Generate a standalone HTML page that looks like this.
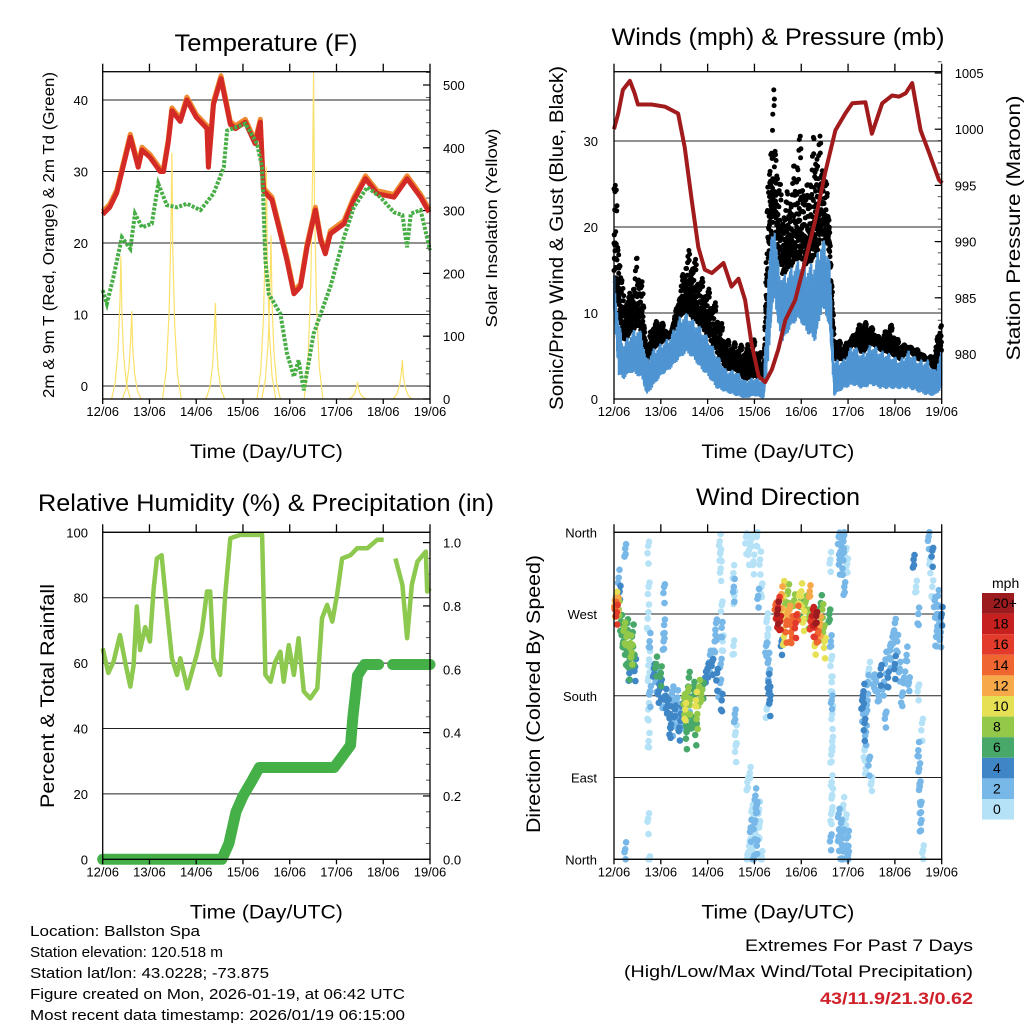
<!DOCTYPE html>
<html><head><meta charset="utf-8"><style>
html,body{margin:0;padding:0;background:#fff;}
svg{display:block;font-family:"Liberation Sans",sans-serif;}
</style></head><body>
<svg id="root" width="1024" height="1024" viewBox="0 0 1024 1024" xmlns="http://www.w3.org/2000/svg"></svg>
<script>
// ---------- DATA ----------
const dayLabels=["12/06","13/06","14/06","15/06","16/06","17/06","18/06","19/06"];
const tempTicks=[0,10,20,30,40];
const solarTicks=[0,100,200,300,400,500];
const windTicks=[0,10,20,30];
const presTicks=[980,985,990,995,1000,1005];
const rhTicks=[0,20,40,60,80,100];
const precipTicks=[0.0,0.2,0.4,0.6,0.8,1.0];
const dirTicks=[0,90,180,270,360];
const dirLabels=["North","East","South","West","North"];
const spdLabels=["20+","18","16","14","12","10","8","6","4","2","0"];

const tDay=[0,0.15,0.3,0.45,0.59,0.76,0.84,1.01,1.23,1.3,1.4,1.48,1.66,1.8,2.0,2.23,2.26,2.37,2.53,2.73,2.84,3.05,3.26,3.37,3.44,3.62,3.8,3.94,4.09,4.23,4.37,4.55,4.66,4.76,4.87,5.16,5.37,5.62,5.87,6.23,6.51,6.8,6.98];
const tVal=[24,25,27,31,34.8,30.6,33,32,30,30,34,38.5,37,40,37.6,36,30.6,39.4,43,36.6,36,36.9,33.9,36.9,27.3,26,21.3,17.6,12.9,13.9,19.4,24.6,20.4,18.5,21.3,22.7,26,29,26.9,26.4,29,26.4,24.3];
const tdDay=[0,0.09,0.23,0.41,0.59,0.69,0.84,1.05,1.19,1.37,1.59,1.8,2.09,2.37,2.59,2.66,3.05,3.3,3.41,3.48,3.55,3.8,3.94,4.09,4.19,4.3,4.51,4.87,5.16,5.37,5.66,5.94,6.23,6.41,6.51,6.59,6.8,7.0];
const tdVal=[13.4,11.5,15.3,20.8,19.2,24.1,22.2,22.7,28.3,25.3,25,25.5,24.6,26.9,30.6,35.7,36.7,33.9,30.6,17.6,12.9,10.1,4.6,1.3,3.6,-0.6,7.3,13.9,20.8,25,27.8,26.4,24.3,23.9,19.4,24.1,24.6,19];
const solarDay=[0.39,0.62,1.48,2.41,3.5,3.6,4.51,5.45,6.41];
const solarPeak=[227,140,392,153,370,260,520,27,62];

const wDay=[0,0.1,0.2,0.35,0.5,0.6,0.7,0.8,1.0,1.2,1.4,1.55,1.7,1.85,2.0,2.2,2.4,2.6,2.8,3.0,3.2,3.3,3.42,3.5,3.6,3.8,3.95,4.1,4.3,4.45,4.6,4.7,4.9,5.1,5.3,5.5,5.7,5.9,6.1,6.3,6.5,6.7,6.85,7.0];
const windHi=[14.7,9.2,6.5,7.7,8.4,7.7,4.6,5.7,6.5,7.3,9.6,10,9.2,8.4,7.3,5.3,3.4,3.4,2.2,2.6,2.2,16.2,21.2,16.2,14.3,15.4,16.2,15.4,16.2,18.9,17,4.6,4.6,6.5,5.3,6.5,5.7,5.3,4.6,5.7,4.6,4.6,3.4,5.7];
const windLo=[10,2.6,2.2,3,2.6,2.2,0.3,1.1,2.6,3.4,4.6,5.3,4.6,3.4,2.6,1.1,0.7,0.3,0,0.3,0,4.6,12.3,8.4,6.5,8.4,9.2,7.7,6.5,10.4,8.4,0.3,1.1,1.5,1.1,1.5,1.1,1.1,1.1,1.1,0.7,0.3,0.3,1.1];
const gust=[28.6,20,12.3,12.3,17,14.3,4.6,8.8,9.2,7.3,12.3,17.4,17,14.3,13.1,10.8,6.9,6.5,6.1,6.9,4.6,28.6,36.4,27.8,22.8,25.5,32.1,24,32.1,29.8,22,7.7,6.1,7.3,9.2,8.4,6.9,8.9,6.5,6.1,5.7,4.6,5.4,10];
const pDay=[0,0.09,0.19,0.34,0.44,0.51,0.8,1.09,1.23,1.37,1.51,1.66,1.8,1.94,2.09,2.34,2.51,2.66,2.8,2.94,3.09,3.23,3.37,3.51,3.66,3.87,4.09,4.3,4.51,4.73,4.94,5.09,5.37,5.51,5.73,5.94,6.09,6.23,6.37,6.55,6.73,6.94,7.01];
const pVal=[1000,1001.4,1003.5,1004.3,1003.2,1002.2,1002.2,1002,1001.7,1001.4,998.4,993.7,989.5,987.5,987.2,988.1,986,986.7,984.8,980.9,978,977.5,978.6,980.4,983,984.8,988.4,991.9,996.1,999.9,1001.4,1002.3,1002.4,999.6,1002.3,1003,1002.9,1003.2,1004.1,999.9,997.9,995.5,995.2];

const rhDay=[0,0.12,0.23,0.37,0.48,0.59,0.66,0.73,0.8,0.91,1.01,1.09,1.16,1.26,1.37,1.48,1.59,1.66,1.81,2.01,2.12,2.23,2.3,2.37,2.51,2.62,2.73,2.94,3.41,3.48,3.59,3.69,3.8,3.87,3.98,4.09,4.19,4.3,4.44,4.59,4.69,4.8,4.91,5.01,5.12,5.3,5.44,5.66,5.87,6.01,6.1,6.26,6.41,6.51,6.61,6.73,6.91,6.94,7.0];
const rhVal=[64.5,57,60.4,68.6,60.4,52.8,59.4,77.3,64,71,66.6,82.9,92,93,76.8,61.5,56.4,61.5,52.3,62.5,69.6,81.9,81.9,61.5,56.4,80.8,98.2,99.2,99.2,56.4,54.3,60.4,63.5,54.3,65.5,56.4,67.6,51.3,49.2,52.3,73.7,77.8,72.7,80.8,92,93,95.1,95.1,97.7,97.7,null,92,83.9,67.6,83.9,91,94.1,81.9,82.9];
const prDay=[0,2.55,2.7,2.85,3.0,3.2,3.35,4.95,5.1,5.3,5.35,5.45,5.6,5.9,6.05,6.2,7.0];
const prVal=[0,0,0.05,0.15,0.2,0.25,0.29,0.29,0.32,0.36,0.45,0.58,0.615,0.615,null,0.615,0.615];

const dirDay=[0.02,0.03,0.05,0.06,0.08,0.1,0.12,0.1,0.15,0.18,0.2,0.22,0.25,0.27,0.3,0.32,0.35,0.38,0.4,0.42,0.45,0.28,0.33,0.24,0.73,0.74,0.72,0.76,0.75,0.74,0.77,0.73,0.74,0.73,0.75,0.24,1.07,1.07,1.06,0.85,0.9,0.95,1.0,1.05,1.1,1.15,1.2,1.25,1.3,1.35,1.4,1.45,1.5,0.9,1.0,1.25,1.35,1.2,1.55,1.6,1.5,1.52,1.55,1.58,1.62,1.66,1.7,1.75,1.78,1.82,1.86,1.9,1.55,1.75,1.6,1.95,2.0,2.05,2.1,2.15,2.2,2.25,2.3,2.28,2.18,2.26,2.27,2.28,2.3,2.3,2.32,2.55,2.56,2.57,2.58,2.6,2.6,2.55,2.82,2.88,2.93,2.98,3.05,3.12,3.15,3.08,2.85,2.9,2.95,3.0,3.05,2.9,2.95,3.0,3.05,3.1,2.85,3.15,3.1,2.92,2.98,3.02,3.3,3.32,3.33,3.31,3.3,3.28,3.27,3.25,3.26,3.45,3.48,3.5,3.52,3.55,3.58,3.6,3.62,3.65,3.68,3.7,3.72,3.75,3.78,3.8,3.85,3.88,3.92,3.95,3.98,4.0,4.05,4.1,4.15,4.18,4.2,4.25,4.28,4.32,4.35,4.4,4.45,4.48,4.5,4.42,4.6,3.58,3.63,4.3,4.62,4.63,4.64,4.65,4.65,4.66,4.66,4.64,4.65,4.66,4.64,4.63,4.8,4.85,4.9,4.95,4.88,4.82,4.92,4.9,4.98,4.8,4.85,4.9,4.95,5.0,4.85,4.9,4.8,4.95,5.0,4.88,5.3,5.32,5.35,5.33,5.38,5.4,5.42,5.45,5.35,5.38,5.45,5.5,5.55,5.6,5.65,5.7,5.75,5.8,5.85,5.9,5.95,6.0,6.05,6.1,6.15,6.2,6.25,6.3,5.8,5.9,6.0,6.4,6.45,6.5,6.5,6.52,6.53,6.55,6.55,6.6,6.5,6.58,6.72,6.75,6.8,6.85,6.9,6.95,7.0,6.88,6.92,6.98,6.8];
const dirDeg=[285,278,290,272,282,275,295,310,262,250,240,255,232,245,225,215,238,228,250,222,212,260,205,342,345,300,265,240,220,200,185,165,130,45,0,11,300,258,240,210,200,185,195,175,180,170,160,150,165,155,145,168,150,215,205,185,178,145,175,160,178,165,155,185,170,150,190,175,160,190,182,192,140,145,200,200,210,225,218,240,205,185,175,215,260,350,338,320,280,255,240,315,300,290,160,140,125,235,355,340,352,328,355,330,300,290,85,95,55,40,60,20,10,25,15,35,5,3,55,35,0,70,195,185,175,205,220,245,265,235,165,280,268,275,285,262,292,270,300,280,258,270,295,275,250,262,285,260,270,290,278,295,265,285,272,295,262,275,255,268,248,260,275,255,240,282,270,240,245,238,330,240,220,195,175,160,130,115,85,70,50,25,355,345,350,340,320,330,300,355,325,50,40,30,15,5,10,60,25,45,25,0,175,160,150,185,140,170,195,210,120,100,110,85,200,195,180,210,190,220,200,235,245,260,240,210,180,200,225,195,160,230,215,330,300,270,120,100,80,60,40,10,190,150,355,330,300,285,270,260,270,245,290,250,340];
const dirSpd=[12,14,10,16,12,8,5,3,6,7,6,8,7,8,7,6,9,8,7,6,5,7,5,3,0,1,1,2,1,1,2,0,0,0,0,3,3,3,2,4,3,4,4,3,5,4,4,3,4,3,4,5,3,6,7,3,2,4,4,3,8,10,7,9,8,7,7,10,8,9,8,7,6,7,6,5,4,3,4,3,4,3,4,3,2,0,1,1,1,2,1,1,2,1,2,1,1,1,0,1,1,1,0,0,1,2,0,1,1,2,3,1,0,1,2,1,0,0,0,2,2,3,4,5,4,3,2,1,1,2,1,14,18,20,16,19,12,10,11,9,14,13,8,12,14,15,9,17,14,10,7,11,10,9,8,13,17,18,16,20,15,12,8,9,10,6,6,5,11,11,1,2,1,1,2,1,1,0,0,1,0,2,2,3,2,1,2,3,3,3,1,2,2,3,2,2,3,1,3,1,2,2,4,3,5,4,3,2,2,1,1,0,2,0,3,2,3,4,3,2,4,3,2,3,3,2,2,2,3,2,2,2,4,4,1,2,2,2,3,3,2,1,1,1,2,0,1,2,3,3,4,3,2,3,4,1];

// ---------- HELPERS ----------
const NS="http://www.w3.org/2000/svg";
const root=document.getElementById('root');
function mk(tag,attrs,parent){const e=document.createElementNS(NS,tag);for(const k in attrs)e.setAttribute(k,attrs[k]);(parent||root).appendChild(e);return e;}
function txt(s,x,y,size,anchor,extra,parent){const e=mk('text',Object.assign({x:x,y:y,'font-size':size,'text-anchor':anchor||'middle',fill:'#000'},extra||{}),parent);e.textContent=s;return e;}
function lin(a0,a1,p0,p1){return v=>p0+(v-a0)*(p1-p0)/(a1-a0);}
function pathOf(xs,ys,fx,fy){let d='',pen=false;for(let i=0;i<xs.length;i++){if(ys[i]===null){pen=false;continue;}d+=(pen?'L':'M')+fx(xs[i]).toFixed(1)+','+fy(ys[i]).toFixed(1);pen=true;}return d;}
const spdColors=["#b5e2f7","#78b8e8","#3f86c6","#48a86a","#93c848","#e6e055","#f7a94a","#ef6631","#e23a2b","#c6201f","#9b1b1e"];
const fr=[0.05,0.35,0.7,1.0,0.5,0.15,0.85,0.25,0.6,0.95,0.4,0.8,0.1,0.55,0.9,0.3,0.75,0.2,0.65,0.45];

function frame(g,x0,x1,y0,y1,name){
  const f=mk('rect',{x:x0,y:y0,width:x1-x0,height:y1-y0,fill:'none',stroke:'#000','stroke-width':1.3},g);
  
  
  const fx=lin(0,7,x0,x1);
  for(let i=0;i<dayLabels.length;i++){
    const x=fx(i);
    const t1=mk('line',{x1:x,x2:x,y1:y0-8,y2:y0,stroke:'#000','stroke-width':1.3},g);
    
    
    const t2=mk('line',{x1:x,x2:x,y1:y1,y2:y1+5,stroke:'#000','stroke-width':1.3},g);
    
    
    const l=txt(dayLabels[i],x,y1+17,13,'middle',{},g);
    
    
  }
  const xt=txt('Time (Day/UTC)',(x0+x1)/2,y1+59,19,'middle',{textLength:153,lengthAdjust:'spacingAndGlyphs'},g);
  
  
  return fx;
}
function hgrid(g,vals,fy,x0,x1,labels,lx,anchor,name){
  vals.forEach((v,i)=>{const y=fy(v);
    const gl=mk('line',{x1:x0,x2:x1,y1:y,y2:y,stroke:'#222','stroke-width':1},g);
    
    
    const tl=txt(labels?labels[i]:String(v),lx,y+5,13,anchor,{},g);
    
    });
}
function rightAxis(g,vals,fy,x,labels,name,minorVals){
  (minorVals||[]).forEach(v=>{const y=fy(v);
    const m=mk('line',{x1:x-4,x2:x,y1:y,y2:y,stroke:'#555','stroke-width':1},g);
    
    });
  vals.forEach((v,i)=>{const y=fy(v);
    const t=mk('line',{x1:x-7,x2:x,y1:y,y2:y,stroke:'#000','stroke-width':1.2},g);
    
    
    const l=txt(labels[i],x+13,y+5,13,'start',{},g);
    
    });
}
function vtitle(g,s,x,y,size,len,name){const e=txt(s,x,y,size,'middle',{transform:`rotate(-90 ${x} ${y})`,textLength:len,lengthAdjust:'spacingAndGlyphs'},g);
  
  return e;}
function title(g,s,x,y,len,name){const e=txt(s,x,y,24,'middle',{textLength:len,lengthAdjust:'spacingAndGlyphs'},g);
  
  }

// ---------- PANEL 1: TEMPERATURE ----------
{
const g=mk('g',{});


const x0=102.7,x1=430,y0=71.7,y1=399;
const fy=lin(0,40,386,100), sy=lin(0,500,399,85);
const fx=lin(0,7,x0,x1);
hgrid(g,tempTicks,fy,x0,x1,null,88,'end','temperature');
const mv=[];for(let v=0;v<=520;v+=20)mv.push(v);
rightAxis(g,solarTicks,sy,x1,solarTicks.map(String),'solar',mv);
solarDay.forEach((c,i)=>{const p=solarPeak[i];
  const xs=[c-0.2,c-0.12,c-0.06,c-0.02,c,c+0.02,c+0.06,c+0.12,c+0.2];
  const ys=[0,p*0.12,p*0.35,p*0.7,p,p*0.6,p*0.3,p*0.1,0];
  const s=mk('path',{d:pathOf(xs,ys,fx,sy),fill:'none',stroke:'#fbe16b','stroke-width':1.2},g);
  
  });
const o=mk('path',{d:pathOf(tDay,tVal.map(v=>v+0.4),fx,fy),fill:'none',stroke:'#f08a30','stroke-width':5,'stroke-linejoin':'round'},g);


const r=mk('path',{d:pathOf(tDay,tVal,fx,fy),fill:'none',stroke:'#d42a26','stroke-width':5,'stroke-linejoin':'round'},g);


const d=mk('path',{d:pathOf(tdDay,tdVal,fx,fy),fill:'none',stroke:'#47ad45','stroke-width':4,'stroke-dasharray':'3 1.5'},g);


frame(g,x0,x1,y0,y1,'temperature');
title(g,'Temperature (F)',266,51,183,'temperature-title');
vtitle(g,'2m & 9m T (Red, Orange) & 2m Td (Green)',54,235,16,326,'temperature-y-title');
vtitle(g,'Solar Insolation (Yellow)',497,228,16,199,'solar-y-title');
}

// ---------- PANEL 2: WINDS ----------
{
const g=mk('g',{});


const x0=614,x1=941.7,y0=71.7,y1=399;
const fy=lin(0,30,399,141), py=lin(980,1000,354,129.2);
const fx=lin(0,7,x0,x1);
hgrid(g,windTicks,fy,x0,x1,null,598,'end','wind');
const mv=[];for(let v=978;v<=1006;v++)mv.push(v);
rightAxis(g,presTicks,py,x1,presTicks.map(String),'pressure',mv);
const dg=mk('g',{fill:'#000'},g);


const bg=mk('g',{stroke:'#4f95d2','stroke-width':2},g);


let k=0;
for(let i=0;i<wDay.length-1;i++){
  const n=Math.max(3,Math.round((wDay[i+1]-wDay[i])/0.007));
  for(let j=0;j<n;j++){const t=j/n;const dd=wDay[i]+(wDay[i+1]-wDay[i])*t;
    const hi=windHi[i]+(windHi[i+1]-windHi[i])*t, gs=gust[i]+(gust[i+1]-gust[i])*t, lo=windLo[i]+(windLo[i+1]-windLo[i])*t;
    const x=fx(dd).toFixed(1);
    for(let m=0;m<3;m++){const f=fr[(k++)%fr.length];
      const v=(m==0)?hi+(gs-hi)*f*0.35 : (m==1? hi+(gs-hi)*f*0.7 : hi+(gs-hi)*f);
      const c=mk('circle',{cx:x,cy:fy(v).toFixed(1),r:2.5},dg);
      
      }
    const f1=fr[(k+3)%fr.length], f2=fr[(k+7)%fr.length];
    const top=lo+(hi-lo)*(0.55+0.45*f1), bot=lo+(hi-lo)*0.25*f2;
    const ln=mk('line',{x1:x,x2:x,y1:fy(bot).toFixed(1),y2:fy(top).toFixed(1)},bg);
    
    
  }
}
const p=mk('path',{d:pathOf(pDay,pVal,fx,py),fill:'none',stroke:'#a11a1c','stroke-width':4,'stroke-linejoin':'round'},g);


frame(g,x0,x1,y0,y1,'winds');
title(g,'Winds (mph) & Pressure (mb)',778,45,333,'winds-title');
vtitle(g,'Sonic/Prop Wind & Gust (Blue, Black)',563,238,19,344,'wind-y-title');
vtitle(g,'Station Pressure (Maroon)',1020,228,19,265,'pressure-y-title');
}

// ---------- PANEL 3: RH & PRECIP ----------
{
const g=mk('g',{});


const x0=102.7,x1=430,y0=532.3,y1=859.3;
const fy=lin(0,100,859.3,532.3), qy=lin(0,1,859.3,542.6);
const fx=lin(0,7,x0,x1);
hgrid(g,rhTicks,fy,x0,x1,null,88,'end','humidity');
const mv=[];for(let v=0;v<=1.04;v+=0.05)mv.push(v);
rightAxis(g,precipTicks,qy,x1,precipTicks.map(v=>v.toFixed(1)),'precip',mv);
const r=mk('path',{d:pathOf(rhDay,rhVal,fx,fy),fill:'none',stroke:'#8dc84f','stroke-width':4.5,'stroke-linejoin':'round'},g);


const q=mk('path',{d:pathOf(prDay,prVal,fx,qy),fill:'none',stroke:'#44b047','stroke-width':11,'stroke-linejoin':'round','stroke-linecap':'round'},g);


frame(g,x0,x1,y0,y1,'humidity');
title(g,'Relative Humidity (%) & Precipitation (in)',266,511,456,'humidity-title');
vtitle(g,'Percent & Total Rainfall',54,696,19,224,'humidity-y-title');
}

// ---------- PANEL 4: WIND DIRECTION ----------
{
const g=mk('g',{});


const x0=614,x1=941.7,y0=532.3,y1=859.3;
const fy=lin(0,360,859.3,532.3);
const fx=lin(0,7,x0,x1);
hgrid(g,dirTicks,fy,x0,x1,dirLabels,597,'end','direction');
const dg=mk('g',{},g);


const order=dirDay.map((d,i)=>i).sort((a,b)=>dirSpd[a]-dirSpd[b]);
const jit=[[0,0],[0.018,7],[-0.015,-8],[0.008,-15]];
order.forEach((i,n)=>{const ci=Math.min(10,Math.floor(dirSpd[i]/2));
  jit.forEach((jj,m)=>{
    const dv=Math.max(0,Math.min(360,dirDeg[i]+jj[1]*(fr[(n+m)%fr.length]+0.3)));
    const c=mk('circle',{cx:fx(dirDay[i]+jj[0]).toFixed(1),cy:fy(dv).toFixed(1),r:3.3,fill:spdColors[ci]},dg);
    
    });});
frame(g,x0,x1,y0,y1,'direction');
title(g,'Wind Direction',778,505,164,'direction-title');
vtitle(g,'Direction (Colored By Speed)',540,694,19,278,'direction-y-title');
const lg=mk('g',{},root);


const lt=txt('mph',992,588,14,'start',{},lg);


spdLabels.forEach((s,i)=>{const y=593+i*20.6;
  const rc=mk('rect',{x:982,y:y,width:32,height:20.6,fill:spdColors[10-i]},lg);
  
  
  const l=txt(s,993,y+15,14,'start',{},lg);
  
  });
}

// ---------- FOOTER ----------
{
const g=mk('g',{});


const lines=["Location: Ballston Spa","Station elevation: 120.518 m","Station lat/lon: 43.0228; -73.875","Figure created on Mon, 2026-01-19, at 06:42 UTC","Most recent data timestamp: 2026/01/19 06:15:00"];
const lens=[170,193,239,375,375];
lines.forEach((s,i)=>{const e=txt(s,30,936+i*21,15,'start',{textLength:lens[i],lengthAdjust:'spacingAndGlyphs'},g);
  
  });
const e1=txt('Extremes For Past 7 Days',973,951,17,'end',{textLength:228,lengthAdjust:'spacingAndGlyphs'},g);


const e2=txt('(High/Low/Max Wind/Total Precipitation)',973,977,17,'end',{textLength:349,lengthAdjust:'spacingAndGlyphs'},g);


const e3=txt('43/11.9/21.3/0.62',973,1004,17,'end',{fill:'#d0202a','font-weight':'bold',textLength:153,lengthAdjust:'spacingAndGlyphs'},g);


}
</script>
</body></html>
